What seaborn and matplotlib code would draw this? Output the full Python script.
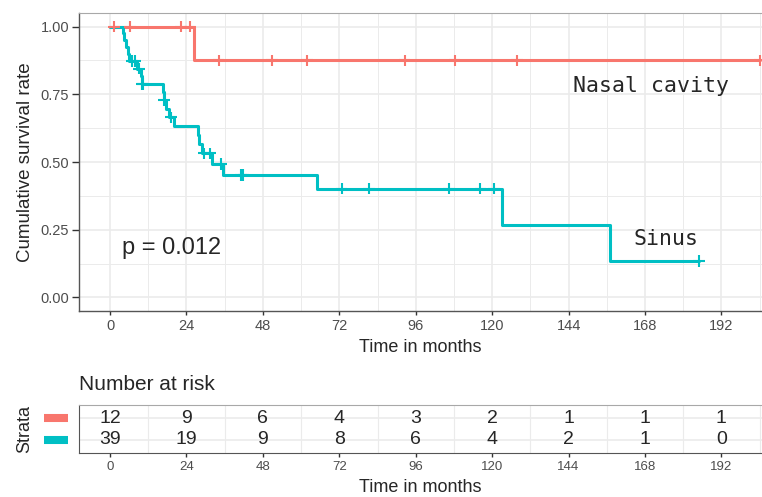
import matplotlib.pyplot as plt
import matplotlib.transforms as mtransforms
import numpy as np
import pandas as pd
import seaborn as sns

# follow-up in months, event 1 = death, 0 = censored
nasal_time = [1.3, 6.3, 22.2, 25.2, 26.4, 34.1, 50.8, 61.9, 92.5, 108.2, 127.9, 204.0]
nasal_event = [0, 0, 0, 0, 1, 0, 0, 0, 0, 0, 0, 0]

sinus_time = [4.0, 4.5, 5.0, 5.5, 6.0, 6.8, 7.9, 8.5, 9.1, 9.6, 10.0, 10.1, 10.2,
              16.5, 16.8, 17.0, 17.6, 18.5, 19.1, 20.0,
              27.5, 28.0, 29.0, 29.5, 31.4, 32.0, 34.8, 35.5, 41.1, 41.9,
              65.0, 72.7, 81.4, 106.5, 116.3, 120.5, 123.0, 157.0, 185.0]
sinus_event = [1, 1, 1, 1, 1, 0, 0, 1, 0, 1, 1, 0, 0,
               1, 1, 0, 1, 1, 0, 1,
               1, 1, 1, 0, 0, 1, 0, 1, 0, 0,
               1, 0, 0, 0, 0, 0, 1, 1, 0]

groups = ["Nasal cavity", "Sinus"]
colors = ["#F8766D", "#00BFC4"]

risk_times = [0, 24, 48, 72, 96, 120, 144, 168, 192]
nasal_risk = [12, 9, 6, 4, 3, 2, 1, 1, 1]
sinus_risk = [39, 19, 9, 8, 6, 4, 2, 1, 0]

p_label = "p = 0.012"


def km(times, events):
    df = pd.DataFrame({"time": times, "event": events}).sort_values("time")
    n = len(df)
    s = 1.0
    rows = [(0.0, 1.0, 0)]
    for t, g in df.groupby("time"):
        d = g["event"].sum()
        if d:
            s *= 1 - d / n
        rows.append((t, s, int((g["event"] == 0).any())))
        n -= len(g)
    return pd.DataFrame(rows, columns=["time", "surv", "censored"])


curves = pd.concat([
    km(nasal_time, nasal_event).assign(group=groups[0]),
    km(sinus_time, sinus_event).assign(group=groups[1]),
], ignore_index=True)
cens = curves[curves["censored"] == 1]
pal = dict(zip(groups, colors))

sns.set_style("white")
plt.rcParams["font.family"] = ["Liberation Sans", "DejaVu Sans"]

W, H = 762, 497
fig = plt.figure(figsize=(W / 100, H / 100), dpi=100)
ax = fig.add_axes([79 / W, 1 - 311 / H, (W - 79) / W, 298 / H])
ax2 = fig.add_axes([79 / W, 1 - 453 / H, (W - 79) / W, 48 / H])

grid_c = "#EBEBEB"
xlim = (-9.75, 204.75)

# survival curves
sns.lineplot(data=curves, x="time", y="surv", hue="group", palette=pal,
             drawstyle="steps-post", estimator=None, lw=2.2, legend=False, ax=ax)
sns.scatterplot(data=cens, x="time", y="surv", hue="group", palette=pal,
                marker="+", s=70, linewidth=1.5, legend=False, ax=ax, zorder=3)

ax.set_xlim(*xlim)
ax.set_ylim(-0.05, 1.05)
ax.set_xticks(np.arange(0, 193, 24))
ax.set_xticks(np.arange(12, 205, 24), minor=True)
ax.set_yticks([0, 0.25, 0.5, 0.75, 1.0])
ax.set_yticks([0.125, 0.375, 0.625, 0.875], minor=True)
ax.set_yticklabels(["0.00", "0.25", "0.50", "0.75", "1.00"])
ax.grid(True, which="major", color=grid_c, lw=1.2, zorder=0)
ax.grid(True, which="minor", color=grid_c, lw=0.7, zorder=0)
ax.set_axisbelow(True)
ax.tick_params(axis="both", which="major", labelsize=10.5, labelcolor="#4D4D4D",
               color="#333333", width=1.0, bottom=True, left=True)
ax.tick_params(axis="x", which="major", length=3, pad=3)
ax.tick_params(axis="y", which="major", length=5, pad=2)
ax.tick_params(which="minor", length=0)
for side in ["left", "bottom"]:
    ax.spines[side].set_color("#555555")
    ax.spines[side].set_linewidth(1.0)
ax.spines["top"].set_color("#A8A8A8")
ax.spines["right"].set_visible(False)

ax.set_xlabel("Time in months", fontsize=13)
ax.xaxis.set_label_coords(0.5, (311 - 347) / 298)
ax.xaxis.label.set_va("center")
ax.set_ylabel("Cumulative survival rate", fontsize=13.5)
ax.yaxis.set_label_coords((26 - 79) / 683, 0.5)
ax.yaxis.label.set_va("center")

ax.text(3.8, 0.162, p_label, fontsize=17, ha="left", va="baseline")
ax.text(145.3, 0.782, groups[0], fontsize=15.5, family="DejaVu Sans Mono",
        ha="left", va="center")
ax.text(164.5, 0.214, groups[1], fontsize=15.5, family="DejaVu Sans Mono",
        ha="left", va="center")

# risk table
rows = [2, 1]
for y, counts in zip(rows, [nasal_risk, sinus_risk]):
    for t, n in zip(risk_times, counts):
        ax2.text(t, y, str(n), ha="center", va="center", fontsize=14)

# strata colour keys in place of y tick labels
key_tr = mtransforms.blended_transform_factory(ax2.transAxes, ax2.transData)
for y, c in zip(rows, colors):
    ax2.plot([(44 - 79) / 683, (68 - 79) / 683], [y, y], color=c, lw=5.8,
             solid_capstyle="butt", transform=key_tr, clip_on=False)

ax2.set_xlim(*xlim)
ax2.set_ylim(0.4, 2.6)
ax2.set_xticks(risk_times)
ax2.set_xticks(np.arange(12, 205, 24), minor=True)
ax2.set_yticks(rows)
ax2.set_yticklabels([])
ax2.yaxis.grid(True, which="major", color=grid_c, lw=1.2)
ax2.xaxis.grid(True, which="minor", color=grid_c, lw=0.8)
ax2.xaxis.grid(False, which="major")
ax2.set_axisbelow(True)
ax2.tick_params(axis="x", which="major", labelsize=9.5, labelcolor="#4D4D4D",
                color="#333333", length=3, width=1.0, bottom=True, pad=3)
ax2.tick_params(axis="y", which="major", length=0)
ax2.tick_params(which="minor", length=0)
for side in ["left", "bottom"]:
    ax2.spines[side].set_color("#555555")
ax2.spines["top"].set_color("#A8A8A8")
ax2.spines["right"].set_visible(False)

ax2.set_xlabel("Time in months", fontsize=13)
ax2.xaxis.set_label_coords(0.5, (453 - 487) / 48)
ax2.xaxis.label.set_va("center")
ax2.set_ylabel("Strata", fontsize=13)
ax2.yaxis.set_label_coords((25 - 79) / 683, 0.5)
ax2.yaxis.label.set_va("center")
ax2.text(0, (453 - 385) / 48, "Number at risk", transform=ax2.transAxes,
         fontsize=15, ha="left", va="center")

fig.savefig("out.png", dpi=100)
